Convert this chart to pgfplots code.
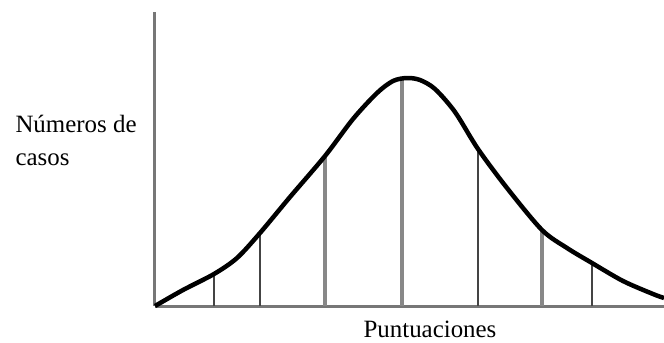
\documentclass[border=0pt]{standalone}
\usepackage{fontspec}
\setmainfont{Liberation Serif}
\usepackage{pgfplots}
\pgfplotsset{compat=1.18}

\definecolor{axisgray}{HTML}{777777}
\definecolor{darkline}{HTML}{444444}
\definecolor{lightline}{HTML}{888888}

\begin{document}
\begin{tikzpicture}
\begin{axis}[
    x=1bp, y=1bp,
    scale only axis,
    xmin=0, xmax=509,
    ymin=0, ymax=294,
    axis lines=left,
    axis line style={-, axisgray, line width=3bp},
    ticks=none,
    clip=false,
]
% ordinates at the marked scores
\addplot[ycomb, darkline, line width=2bp, no markers] coordinates {
    (59,32) (105,73) (323,156) (437,43)
};
\addplot[ycomb, lightline, line width=3.5bp, no markers] coordinates {
    (170,150) (247,227) (387,76)
};
% the curve
\addplot[black, line width=4.5bp, smooth, tension=0.5, no markers] coordinates {
    (0,0) (28,16) (59,32) (82,48) (105,73) (135,109) (170,150)
    (198,187) (222,213) (238,225) (252,228) (265,226) (280,217) (300,194)
    (323,157) (352,118) (387,76) (412,58) (437,43) (468,25) (498,12) (509,8)
};
\node[anchor=base west, font=\fontsize{25}{30}\selectfont] at (axis cs:-143,174) {Números de};
\node[anchor=base west, font=\fontsize{25}{30}\selectfont] at (axis cs:-143,141) {casos};
\node[anchor=base, font=\fontsize{25}{30}\selectfont] at (axis cs:275,-31) {Puntuaciones};
\coordinate (bl) at (axis cs:-155,-36);
\coordinate (tr) at (axis cs:509,306);
\end{axis}
\pgfresetboundingbox
\path (bl) rectangle (tr);
\end{tikzpicture}
\end{document}
